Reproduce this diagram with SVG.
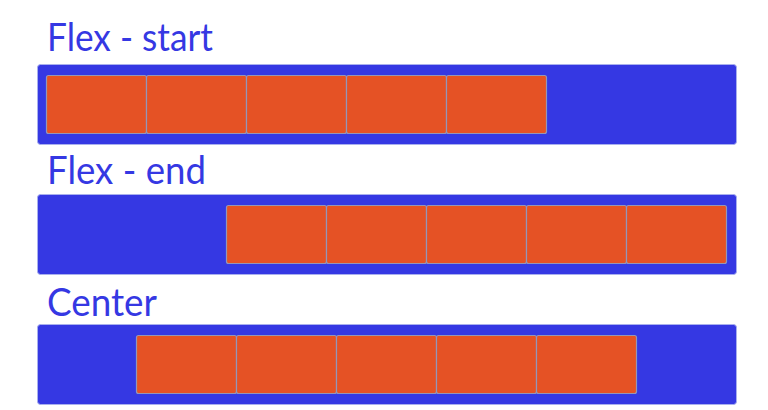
<svg xmlns="http://www.w3.org/2000/svg" width="768" height="410" viewBox="0 0 768 410">
<style>
.lbl{font-family:"Lato","DejaVu Sans",sans-serif;font-size:38px;fill:#3538E3;font-weight:400}
.cont{fill:#3538E3;stroke:#a9b0ee;stroke-width:1}
.box{fill:#E55225;stroke:#9496b8;stroke-width:1.2}
</style>
<rect width="768" height="410" fill="#ffffff"/>
<g id="flex-start">
<text class="lbl" x="47" y="51" textLength="166" lengthAdjust="spacingAndGlyphs">Flex - start</text>
<rect class="cont" x="37.5" y="64.5" width="699" height="80" rx="3"/>
<rect class="box" x="46.5" y="75.5" width="100" height="58" rx="2"/>
<rect class="box" x="146.5" y="75.5" width="100" height="58" rx="2"/>
<rect class="box" x="246.5" y="75.5" width="100" height="58" rx="2"/>
<rect class="box" x="346.5" y="75.5" width="100" height="58" rx="2"/>
<rect class="box" x="446.5" y="75.5" width="100" height="58" rx="2"/>
</g>
<g id="flex-end">
<text class="lbl" x="47" y="184" textLength="159" lengthAdjust="spacingAndGlyphs">Flex - end</text>
<rect class="cont" x="37.5" y="194.5" width="699" height="80" rx="3"/>
<rect class="box" x="226.5" y="205.5" width="100" height="58" rx="2"/>
<rect class="box" x="326.5" y="205.5" width="100" height="58" rx="2"/>
<rect class="box" x="426.5" y="205.5" width="100" height="58" rx="2"/>
<rect class="box" x="526.5" y="205.5" width="100" height="58" rx="2"/>
<rect class="box" x="626.5" y="205.5" width="100" height="58" rx="2"/>
</g>
<g id="center">
<text class="lbl" x="47" y="316" textLength="110" lengthAdjust="spacingAndGlyphs">Center</text>
<rect class="cont" x="37.5" y="324.5" width="699" height="80" rx="3"/>
<rect class="box" x="136.5" y="335.5" width="100" height="58" rx="2"/>
<rect class="box" x="236.5" y="335.5" width="100" height="58" rx="2"/>
<rect class="box" x="336.5" y="335.5" width="100" height="58" rx="2"/>
<rect class="box" x="436.5" y="335.5" width="100" height="58" rx="2"/>
<rect class="box" x="536.5" y="335.5" width="100" height="58" rx="2"/>
</g>
<g id="connectors"/>
</svg>
